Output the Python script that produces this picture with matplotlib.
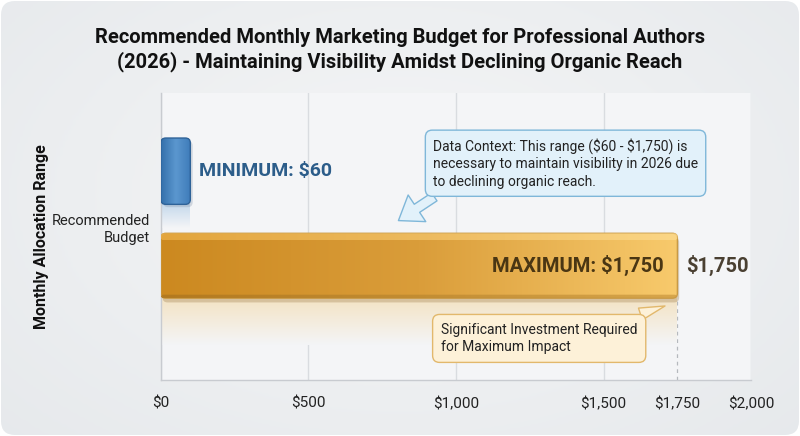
import matplotlib
matplotlib.use("Agg")

import matplotlib.pyplot as plt
import numpy as np
from matplotlib.patches import FancyBboxPatch
from matplotlib.colors import LinearSegmentedColormap

plt.rcParams["font.family"] = ["Roboto", "DejaVu Sans"]

# -- Data ---------------------------------------------------------------------
category = "Recommended\nBudget"
bar_names = ["MINIMUM", "MAXIMUM"]
bar_values = [60, 1750]
x_ticks = [0, 500, 1000, 1500, 1750, 2000]
x_ticklabels = ["$0", "$500", "$1,000", "$1,500", "$1,750", "$2,000"]
title = ("Recommended Monthly Marketing Budget for Professional Authors\n"
         "(2026) - Maintaining Visibility Amidst Declining Organic Reach")
context_note = ("Data Context: This range (\\$60 - \\$1,750) is\n"
                "necessary to maintain visibility in 2026 due\n"
                "to declining organic reach.")
max_note = "Significant Investment Required\nfor Maximum Impact"

# -- Figure & background ------------------------------------------------------
W, H = 800, 436
fig = plt.figure(figsize=(8, 4.36), dpi=100, facecolor="white")

bg = fig.add_axes([0, 0, 1, 1], zorder=-10)
bg.set_xlim(0, W)
bg.set_ylim(0, H)
bg.axis("off")
yy, xx = np.mgrid[0:1:200j, 0:1:300j]
shade = 1 - 0.6 * np.sqrt(((xx - 0.5) / 0.7) ** 2 + ((yy - 0.55) / 0.8) ** 2)
bg_cmap = LinearSegmentedColormap.from_list("bg", ["#e4e7ea", "#f5f6f7"])
bg_im = bg.imshow(shade, extent=(0, W, 0, H), cmap=bg_cmap, aspect="auto",
                  vmin=0.3, vmax=1.0, origin="lower")
bg_clip = FancyBboxPatch((1, 1), W - 2, H - 2, boxstyle="round,pad=0,rounding_size=14",
                         transform=bg.transData, fc="none", ec="none")
bg.add_patch(bg_clip)
bg_im.set_clip_path(bg_clip)

ax = fig.add_axes([0.201, 0.128, 0.738, 0.659])
ax.set_facecolor("#f4f5f7")

xlim = (0, 2000)
ylim = (-1.086, 0.95)
ax.set_xlim(*xlim)
ax.set_ylim(*ylim)

# data units per pixel, used for rounded corners
px_x = (xlim[1] - xlim[0]) / (0.738 * W)
px_y = (ylim[1] - ylim[0]) / (0.659 * H)
aspect = px_y / px_x


def gradient_patch(x0, y0, w, h, colors, radius_px, direction="h", alpha=1.0,
                   edge="none", zorder=3, rounded=True):
    style = f"round,pad=0,rounding_size={radius_px * px_x}" if rounded else "square,pad=0"
    patch = FancyBboxPatch((x0, y0), w, h, boxstyle=style, mutation_aspect=aspect,
                           fc="none", ec=edge, lw=1.0, zorder=zorder + 0.1)
    ax.add_patch(patch)
    cmap = LinearSegmentedColormap.from_list("g", colors)
    if direction == "h":
        grad = np.linspace(0, 1, 256)[None, :]
    else:
        grad = np.linspace(0, 1, 256)[:, None]
    im = ax.imshow(grad, extent=(x0, x0 + w, y0, y0 + h), cmap=cmap, aspect="auto",
                   origin="lower", alpha=alpha, zorder=zorder, interpolation="bilinear")
    im.set_clip_path(patch)
    return patch


# grid
for t in [0, 500, 1000, 1500, 2000]:
    ax.axvline(t, color="#d9dce0", lw=1.0, zorder=1)

# bar geometry
centers = [0.395, -0.275]
heights = [0.47, 0.46]
min_visible = 100  # keep the small bar visible

blue_w = max(bar_values[0], min_visible)
blue_y0 = centers[0] - heights[0] / 2
orng_y0 = centers[1] - heights[1] / 2

# reflections under bars
gradient_patch(0, blue_y0 - 0.17, blue_w, 0.17,
               ["#f4f5f7", "#c5d9ec"], 0, direction="v", zorder=2, rounded=False)
gradient_patch(0, orng_y0 - 0.33, bar_values[1], 0.33,
               ["#f4f5f7", "#f3e3c4"], 0, direction="v", zorder=2, rounded=False)

# blue (minimum) bar
shadow = FancyBboxPatch((8, blue_y0 - 0.02), blue_w, heights[0],
                        boxstyle=f"round,pad=0,rounding_size={5 * px_x}",
                        mutation_aspect=aspect, fc="#8a9bb0", ec="none", alpha=0.35, zorder=2.5)
ax.add_patch(shadow)
gradient_patch(0, blue_y0, blue_w, heights[0],
               ["#3470ab", "#5b97cf", "#3e7bb9"], 5, edge="#2e6298")

# orange (maximum) bar
shadow = FancyBboxPatch((6, orng_y0 - 0.03), bar_values[1], heights[1],
                        boxstyle=f"round,pad=0,rounding_size={5 * px_x}",
                        mutation_aspect=aspect, fc="#a08050", ec="none", alpha=0.35, zorder=2.5)
ax.add_patch(shadow)
gradient_patch(0, orng_y0, bar_values[1], heights[1],
               ["#cc8920", "#da9d3a", "#f8ca6c"], 5, edge="#c99a45")
# top highlight and darker bottom edge
gradient_patch(0, orng_y0 + heights[1] - 0.05, bar_values[1], 0.05,
               ["#eeb24a", "#fddc92"], 3, zorder=3.5, alpha=0.7)
gradient_patch(0, orng_y0, bar_values[1], 0.025,
               ["#ad761f", "#cf9d44"], 3, zorder=3.5, alpha=0.8)

# bar labels
ax.text(blue_w + 30, centers[0], f"{bar_names[0]}: ${bar_values[0]:,}",
        ha="left", va="center", fontsize=14, fontweight="bold", color="#2c5d8a", zorder=5)
ax.text(bar_values[1] - 45, centers[1], f"{bar_names[1]}: ${bar_values[1]:,}",
        ha="right", va="center", fontsize=14.5, fontweight="bold", color="#4a3613", zorder=5)
ax.text(bar_values[1] + 30, centers[1], f"${bar_values[1]:,}",
        ha="left", va="center", fontsize=14.5, fontweight="bold", color="#4a4032", zorder=5)

# dashed marker at the maximum
ax.plot([bar_values[1], bar_values[1]], [ylim[0], orng_y0],
        ls=(0, (3, 3)), color="#b5b9be", lw=0.9, zorder=1.5)

# annotations
ax.annotate(context_note, xy=(805, 0.045), xytext=(922, 0.45),
            ha="left", va="center", fontsize=10, color="#222222", linespacing=1.3,
            bbox=dict(boxstyle="round,pad=0.55,rounding_size=0.5", fc="#e2f1fa",
                      ec="#7fb7d9", lw=1.0),
            arrowprops=dict(arrowstyle="simple,head_width=2.3,head_length=1.6,tail_width=0.7",
                            fc="#e2f1fa", ec="#7fb7d9", lw=1.0,
                            shrinkA=0, shrinkB=0, relpos=(0.06, 0.03)),
            zorder=6)

ax.annotate(max_note, xy=(1708, -0.56), xytext=(949, -0.79),
            ha="left", va="center", fontsize=10, color="#222222", linespacing=1.3,
            bbox=dict(boxstyle="round,pad=0.6,rounding_size=0.5", fc="#fdf1d8",
                      ec="#e2b86c", lw=1.0),
            arrowprops=dict(arrowstyle="wedge,tail_width=0.9,shrink_factor=0.5",
                            fc="#fdf1d8", ec="#e2b86c", lw=1.0,
                            shrinkA=0, shrinkB=0, relpos=(0.88, 1.0)),
            zorder=6)

# axes styling
ax.set_xticks(x_ticks)
ax.set_xticklabels(x_ticklabels, fontsize=11, color="#222222")
ax.set_yticks([0])
ax.set_yticklabels([category], fontsize=10.5, color="#222222", ha="right",
                   linespacing=1.2)
ax.tick_params(axis="both", length=0, pad=12)
ax.tick_params(axis="y", pad=8)
for side in ["top", "right"]:
    ax.spines[side].set_visible(False)
for side in ["left", "bottom"]:
    ax.spines[side].set_color("#c8cbd0")
    ax.spines[side].set_linewidth(1.0)

ax.set_ylabel("Monthly Allocation Range", fontsize=11.5, fontweight="bold",
              color="#111111", labelpad=0)
ax.yaxis.set_label_coords(-0.19, 0.5)

fig.text(0.5, 0.885, title, ha="center", va="center", fontsize=14.5,
         fontweight="bold", color="#111111", linespacing=1.25)

fig.savefig("out.png", dpi=100, facecolor="white")
plt.close(fig)
